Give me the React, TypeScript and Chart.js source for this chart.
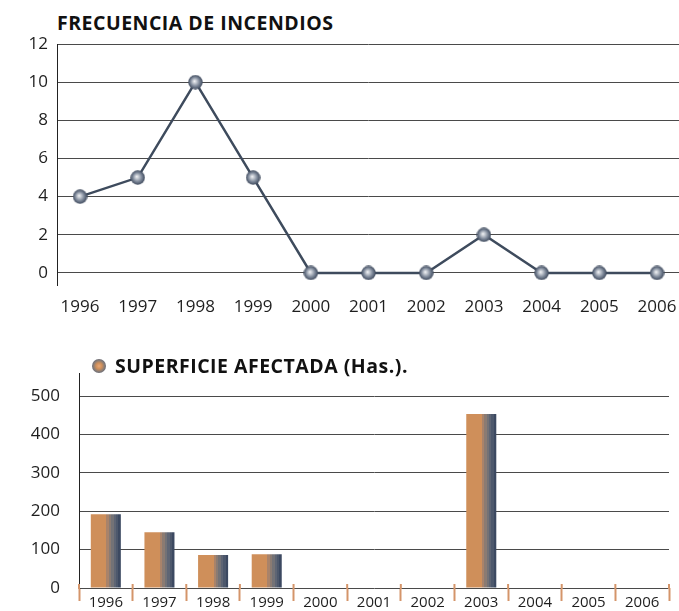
import React, { useEffect, useRef } from 'react';
import { Chart, registerables } from 'chart.js';
Chart.register(...registerables);

const years = ['1996', '1997', '1998', '1999', '2000', '2001', '2002', '2003', '2004', '2005', '2006'];
const yearNums = [1996, 1997, 1998, 1999, 2000, 2001, 2002, 2003, 2004, 2005, 2006];
const frecuencia = [4, 5, 10, 5, 0, 0, 0, 2, 0, 0, 0];
const superficie = [192, 145, 86, 88, 0, 0, 0, 453, 0, 0, 0];
const freqTicks = [0, 2, 4, 6, 8, 10, 12];
const supTicks = [0, 100, 200, 300, 400, 500];

const FONT = '"Open Sans", "DejaVu Sans", sans-serif';
const TEXT = '#1e1e1e';
const GRID = '#4a4a4a';
const ORANGE = '#d4956a';

function makeSphere(size: number): HTMLCanvasElement {
  const c = document.createElement('canvas');
  c.width = size;
  c.height = size;
  const g = c.getContext('2d')!;
  const r = size / 2;
  const grad = g.createRadialGradient(r - 1, r - 1, 0, r, r, r);
  grad.addColorStop(0, '#f4f5f7');
  grad.addColorStop(0.25, '#c5cad2');
  grad.addColorStop(0.6, '#7c8798');
  grad.addColorStop(1, '#394457');
  g.fillStyle = grad;
  g.beginPath();
  g.arc(r, r, r - 0.3, 0, Math.PI * 2);
  g.fill();
  return c;
}

// draws the small part of the orange category ticks that pokes above the baseline
const tickStubs = {
  id: 'tickStubs',
  afterDatasetsDraw(chart: any) {
    const xs = chart.scales.x;
    const ctx = chart.ctx;
    const n = xs.ticks.length;
    const bottom = chart.chartArea.bottom;
    ctx.save();
    ctx.strokeStyle = ORANGE;
    ctx.lineWidth = 2;
    for (let i = 0; i <= n; i++) {
      const x = xs.left + (i * xs.width) / n;
      ctx.beginPath();
      ctx.moveTo(x, bottom - 4);
      ctx.lineTo(x, bottom + 1);
      ctx.stroke();
    }
    ctx.restore();
  },
};

export default function App() {
  const lineRef = useRef<HTMLCanvasElement>(null);
  const barRef = useRef<HTMLCanvasElement>(null);

  useEffect(() => {
    const sphere = makeSphere(15);
    const line = new Chart(lineRef.current!, {
      type: 'line',
      data: {
        datasets: [
          {
            data: yearNums.map((y, i) => ({ x: y, y: frecuencia[i] })),
            borderColor: '#3e4b5d',
            borderWidth: 2.5,
            pointStyle: sphere as any,
            pointRadius: 7,
            pointHoverRadius: 7,
            tension: 0,
            clip: false,
          },
        ],
      },
      options: {
        animation: false,
        responsive: false,
        devicePixelRatio: 1,
        layout: { autoPadding: false, padding: { top: 44, left: 0, right: 0, bottom: 0 } },
        plugins: { legend: { display: false }, tooltip: { enabled: false }, title: { display: false } },
        scales: {
          x: {
            type: 'linear',
            min: 1995.601,
            max: 2006.381,
            afterBuildTicks: (s: any) => {
              s.ticks = yearNums.map((v) => ({ value: v }));
            },
            afterFit: (s: any) => {
              s.height = 40;
              s.paddingLeft = 0;
              s.paddingRight = 0;
            },
            ticks: {
              callback: (v: any) => String(v),
              font: { family: FONT, size: 17 },
              color: TEXT,
              padding: 12,
              maxRotation: 0,
              autoSkip: false,
            },
            grid: { display: false, drawTicks: false },
            border: { display: false },
          },
          y: {
            min: -0.63,
            max: 12,
            afterBuildTicks: (s: any) => {
              s.ticks = freqTicks.map((v) => ({ value: v }));
            },
            afterFit: (s: any) => {
              s.width = 57;
              s.paddingTop = 0;
              s.paddingBottom = 0;
            },
            ticks: { font: { family: FONT, size: 17 }, color: TEXT, padding: 9 },
            grid: { color: GRID, lineWidth: 1, drawTicks: false },
            border: { display: true, color: '#222', width: 1 },
          },
        },
      },
    } as any);

    const bar = new Chart(barRef.current!, {
      type: 'bar',
      data: {
        labels: years,
        datasets: [
          {
            data: superficie,
            barPercentage: 0.56,
            categoryPercentage: 1,
            backgroundColor: (ctx: any) => {
              const chart = ctx.chart;
              const xs = chart.scales && chart.scales.x;
              if (!xs || ctx.dataIndex === undefined || !xs.width) return '#cf8f5a';
              const cx = xs.getPixelForValue(ctx.dataIndex);
              const w = (xs.width / years.length) * 0.56;
              const x0 = cx - w / 2;
              const g = chart.ctx.createLinearGradient(x0, 0, x0 + w, 0);
              const stops: [number, string][] = [
                [0, '#cf8f5a'],
                [0.52, '#cf8f5a'],
                [0.52, '#a9836a'],
                [0.6, '#a9836a'],
                [0.6, '#8b7b72'],
                [0.68, '#8b7b72'],
                [0.68, '#737276'],
                [0.76, '#737276'],
                [0.76, '#5e6574'],
                [0.84, '#5e6574'],
                [0.84, '#4d586c'],
                [0.92, '#4d586c'],
                [0.92, '#3c4961'],
                [1, '#3c4961'],
              ];
              stops.forEach(([o, c]) => g.addColorStop(o, c));
              return g;
            },
          },
        ],
      },
      plugins: [tickStubs],
      options: {
        animation: false,
        responsive: false,
        devicePixelRatio: 1,
        layout: { padding: { top: 33, left: 0, right: 10, bottom: 0 } },
        plugins: { legend: { display: false }, tooltip: { enabled: false }, title: { display: false } },
        scales: {
          x: {
            afterFit: (s: any) => {
              s.height = 23;
            },
            ticks: {
              font: { family: FONT, size: 15 },
              color: TEXT,
              padding: -7,
              maxRotation: 0,
              autoSkip: false,
            },
            grid: {
              offset: true,
              drawOnChartArea: false,
              drawTicks: true,
              tickLength: 13,
              tickColor: ORANGE,
              tickWidth: 2,
            },
            border: { display: false },
          },
          y: {
            min: 0,
            max: 560,
            afterBuildTicks: (s: any) => {
              s.ticks = supTicks.map((v) => ({ value: v }));
            },
            afterFit: (s: any) => {
              s.width = 79;
              s.paddingTop = 0;
              s.paddingBottom = 0;
            },
            ticks: { font: { family: FONT, size: 17 }, color: TEXT, padding: 19 },
            grid: { color: GRID, lineWidth: 1, drawTicks: false },
            border: { display: true, color: '#222', width: 1 },
          },
        },
      },
    } as any);

    return () => {
      line.destroy();
      bar.destroy();
    };
  }, []);

  const titleStyle: React.CSSProperties = {
    position: 'absolute',
    fontFamily: FONT,
    fontWeight: 700,
    fontSize: 19.5,
    letterSpacing: 0.5,
    lineHeight: '24px',
    color: '#111',
    whiteSpace: 'nowrap',
  };

  return (
    <div style={{ position: 'absolute', left: 0, top: 0, width: 679, height: 611, background: '#fff', overflow: 'hidden' }}>
      <div style={{ ...titleStyle, left: 57, top: 11 }}>FRECUENCIA DE INCENDIOS</div>
      <canvas ref={lineRef} width={679} height={325} style={{ position: 'absolute', left: 0, top: 0 }} />
      <canvas ref={barRef} width={679} height={271} style={{ position: 'absolute', left: 0, top: 340 }} />
      <span
        style={{
          position: 'absolute',
          left: 92,
          top: 359,
          width: 14,
          height: 14,
          borderRadius: '50%',
          background: 'radial-gradient(circle at 50% 50%, #e8a878 0%, #cf8f5a 30%, #8a7d76 55%, #5a6274 80%, #3e4a60 100%)',
        }}
      />
      <div style={{ ...titleStyle, left: 115, top: 354 }}>SUPERFICIE AFECTADA (Has.).</div>
    </div>
  );
}
